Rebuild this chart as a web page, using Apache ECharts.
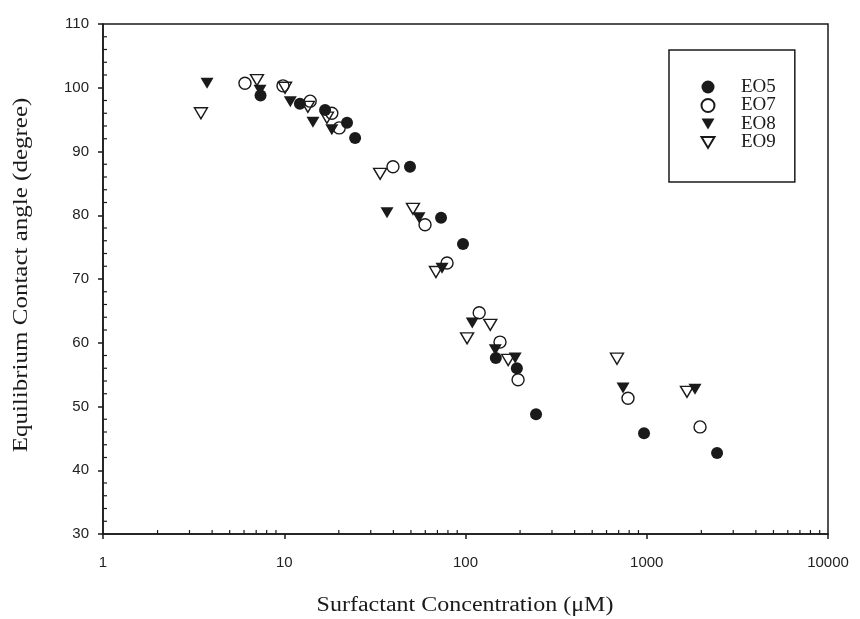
<!DOCTYPE html>
<html>
<head>
<meta charset="utf-8">
<script src="https://cdn.jsdelivr.net/npm/echarts@6/dist/echarts.min.js"></script>
<style>
  html, body { margin: 0; padding: 0; background: #fff; }
  #chart { width: 860px; height: 619px; }
</style>
</head>
<body>
<div id="chart"></div>
<script>
// values (x in µM, y in degree)
const eo5X = [7.4, 12.2, 16.8, 22.2, 24.6, 49.4, 73.3, 96.9, 147, 192, 245, 966, 2443];
const eo5Y = [98.8, 97.5, 96.5, 94.5, 92.1, 87.6, 79.6, 75.5, 57.6, 56.0, 48.8, 45.8, 42.7];
const eo7X = [6.07, 9.84, 13.9, 18.3, 20.1, 39.8, 59.8, 79.1, 119, 155, 195, 788, 1968];
const eo7Y = [100.7, 100.3, 97.9, 96.0, 93.7, 87.6, 78.5, 72.5, 64.7, 60.1, 54.2, 51.3, 46.8];
const eo8X = [3.75, 7.35, 10.8, 14.4, 18.3, 36.9, 55.4, 74.2, 109, 146, 188, 740, 1846];
const eo8Y = [100.7, 99.6, 97.8, 94.6, 93.4, 80.4, 79.6, 71.7, 63.1, 58.9, 57.6, 52.9, 52.7];
const eo9X = [3.47, 7.07, 10.1, 13.5, 17.2, 33.8, 51.3, 68.7, 102, 137, 172, 685, 1667];
const eo9Y = [96.0, 101.2, 100.0, 97.0, 95.3, 86.5, 81.0, 71.1, 60.7, 62.8, 57.3, 57.5, 52.3];

const seriesNames = ["EO5", "EO7", "EO8", "EO9"];
const xTitle = "Surfactant Concentration (\u03bcM)";
const yTitle = "Equilibrium Contact angle (degree)";

// minor tick positions
const xMinorTicks = [2, 3, 4, 5, 6, 7, 8, 9, 20, 30, 40, 50, 60, 70, 80, 90,
  200, 300, 400, 500, 600, 700, 800, 900, 2000, 3000, 4000, 5000, 6000, 7000, 8000, 9000];
const yMinorTicks = [32, 34, 36, 38, 42, 44, 46, 48, 52, 54, 56, 58, 62, 64, 66, 68,
  72, 74, 76, 78, 82, 84, 86, 88, 92, 94, 96, 98, 102, 104, 106, 108];

function zip(xs, ys) {
  return xs.map(function (x, i) { return [x, ys[i]]; });
}

const ink = "#1a1a1a";
const triDown = "path://M0,0L12,0L6,10Z";
const serif = '"Liberation Serif", "Times New Roman", serif';

let chart = echarts.init(document.getElementById("chart"), null, { renderer: "canvas" });

let option = {
  animation: false,
  backgroundColor: "#fff",
  grid: {
    left: 103,
    right: 32,
    top: 24,
    bottom: 85,
    show: true,
    borderColor: ink,
    borderWidth: 1.5,
  },
  // axis titles: the scan's lettering is spaced out, so stretch it a bit
  graphic: [
    {
      type: "text",
      x: 465,
      y: 606,
      scaleX: 1.2,
      silent: true,
      style: { text: xTitle, font: "20px " + serif, fill: ink, align: "center", verticalAlign: "middle" },
    },
    {
      type: "text",
      x: 22,
      y: 275,
      rotation: Math.PI / 2,
      scaleX: 1.25,
      silent: true,
      style: { text: yTitle, font: "20px " + serif, fill: ink, align: "center", verticalAlign: "middle" },
    },
  ],
  legend: {
    data: seriesNames,
    orient: "vertical",
    left: 669,
    top: 50,
    padding: [27.5, 19, 30, 31.5],
    itemWidth: 13,
    itemHeight: 13,
    itemGap: -0.5,
    borderColor: ink,
    borderWidth: 1.5,
    textStyle: {
      fontFamily: serif,
      fontSize: 19,
      color: ink,
      padding: [0, 0, 0, 21.5],
    },
  },
  xAxis: {
    type: "log",
    logBase: 10,
    min: 1,
    max: 10000,
    axisLine: { show: true, lineStyle: { color: ink, width: 1.5 } },
    axisTick: { show: true, length: 5, lineStyle: { color: ink, width: 1.5 } },
    axisLabel: {
      margin: 21,
      fontFamily: "Liberation Sans",
      fontSize: 15,
      color: "#222",
      formatter: function (v) { return String(v); },
    },
    splitLine: { show: false },
    minorTick: { show: false },
  },
  yAxis: {
    type: "value",
    min: 30,
    max: 110,
    interval: 10,
    axisLine: { show: true, lineStyle: { color: ink, width: 1.5 } },
    axisTick: { show: true, length: 5, lineStyle: { color: ink, width: 1.5 } },
    axisLabel: {
      margin: 14,
      fontFamily: "Liberation Sans",
      fontSize: 15,
      color: "#222",
    },
    splitLine: { show: false },
  },
  series: [
    {
      name: "EO5",
      type: "scatter",
      symbol: "circle",
      symbolSize: 12,
      itemStyle: { color: ink, opacity: 1 },
      data: zip(eo5X, eo5Y),
      z: 3,
    },
    {
      name: "EO7",
      type: "scatter",
      symbol: "circle",
      symbolSize: 12,
      itemStyle: { color: "rgba(255,255,255,0)", borderColor: ink, borderWidth: 1.4, opacity: 1 },
      data: zip(eo7X, eo7Y),
      z: 4,
    },
    {
      name: "EO8",
      type: "scatter",
      symbol: triDown,
      symbolSize: [13, 11],
      itemStyle: { color: ink, opacity: 1 },
      data: zip(eo8X, eo8Y),
      z: 3,
    },
    {
      name: "EO9",
      type: "scatter",
      symbol: triDown,
      symbolSize: [13, 11],
      itemStyle: { color: "rgba(255,255,255,0)", borderColor: ink, borderWidth: 1.4, opacity: 1 },
      data: zip(eo9X, eo9Y),
      z: 4,
    },
    {
      // x minor ticks, pointing inward from the bottom axis
      name: "xMinor",
      type: "custom",
      silent: true,
      clip: false,
      data: xMinorTicks.map(function (v) { return [v, 30]; }),
      renderItem: function (params, api) {
        let p = api.coord([api.value(0), api.value(1)]);
        return {
          type: "line",
          shape: { x1: p[0], y1: p[1], x2: p[0], y2: p[1] - 4 },
          style: { stroke: ink, lineWidth: 1.2 },
        };
      },
      z: 5,
    },
    {
      // y minor ticks, pointing inward from the left axis
      name: "yMinor",
      type: "custom",
      silent: true,
      clip: false,
      data: yMinorTicks.map(function (v) { return [1, v]; }),
      renderItem: function (params, api) {
        let p = api.coord([api.value(0), api.value(1)]);
        return {
          type: "line",
          shape: { x1: p[0], y1: p[1], x2: p[0] + 4, y2: p[1] },
          style: { stroke: ink, lineWidth: 1.2 },
        };
      },
      z: 5,
    },
  ],
};

chart.setOption(option);
</script>
</body>
</html>
